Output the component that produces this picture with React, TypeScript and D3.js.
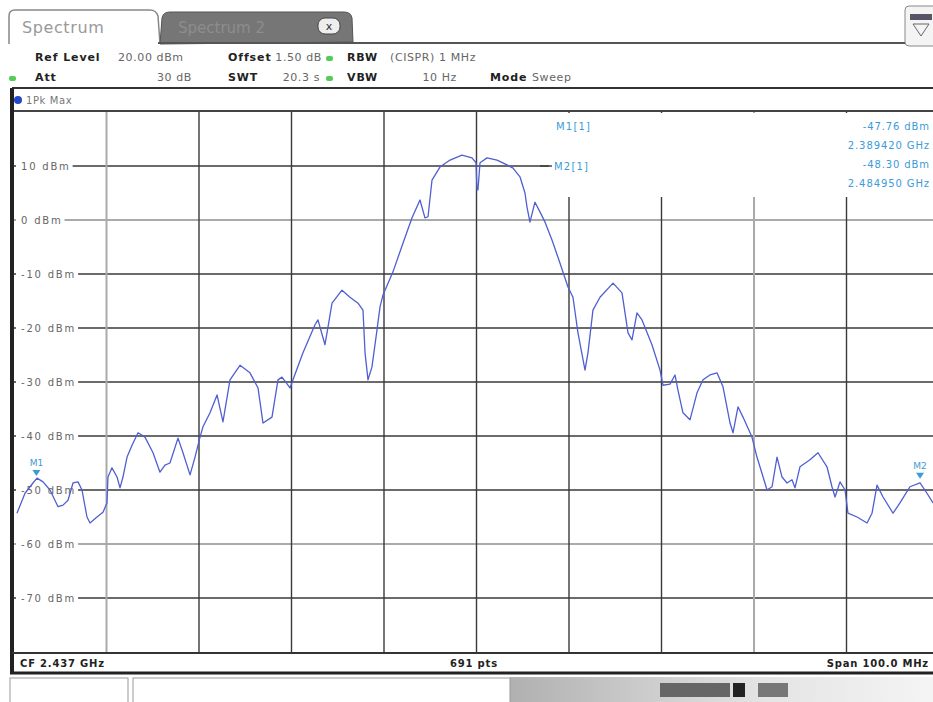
import React, { useEffect, useRef } from 'react';
import * as d3 from 'd3';

// sweep trace (MHz, dBm)
const traceFreq = [
	2387.32, 2388.19, 2389.05, 2389.49, 2390.14, 2390.89, 2391.76, 2392.3, 2392.84, 2393.38,
	2393.92, 2394.35, 2394.89, 2395.22, 2395.97, 2396.62, 2397.05, 2397.16, 2397.59, 2398.14,
	2398.46, 2398.78, 2399.22, 2399.76, 2400.41, 2401.16, 2402.03, 2402.78, 2403.32, 2403.86,
	2404.73, 2405.27, 2406.03, 2406.57, 2407.11, 2407.43, 2408.19, 2408.95, 2409.59, 2410.35,
	2411.43, 2412.51, 2413.38, 2413.92, 2414.89, 2415.54, 2415.97, 2416.84, 2417.16, 2418.24,
	2419.54, 2419.86, 2420.62, 2420.95, 2421.38, 2422.46, 2423.32, 2424.19, 2424.73, 2424.95,
	2425.27, 2425.7, 2426.24, 2426.57, 2426.89, 2427.97, 2429.05, 2430.03, 2430.89, 2431.43,
	2431.76, 2432.19, 2433.05, 2434.14, 2435.43, 2436.51, 2436.95, 2437.05, 2437.16, 2437.38,
	2438.14, 2439.22, 2440.3, 2440.95, 2441.7, 2442.24, 2442.46, 2442.78, 2443.32, 2443.86,
	2444.41, 2445.16, 2446.03, 2446.89, 2447.43, 2447.97, 2448.73, 2449.05, 2449.59, 2450.35,
	2451.76, 2452.73, 2453.38, 2453.81, 2454.35, 2454.89, 2455.97, 2456.84, 2457.16, 2457.92,
	2458.46, 2458.78, 2459.32, 2460.08, 2460.84, 2461.49, 2462.24, 2463.0, 2463.65, 2464.41,
	2464.73, 2465.27, 2465.81, 2466.78, 2467.32, 2467.86, 2468.41, 2468.95, 2469.49, 2470.03,
	2470.57, 2471.11, 2471.43, 2471.97, 2473.05, 2473.92, 2474.89, 2475.43, 2475.76, 2476.3,
	2476.84, 2477.16, 2478.14, 2479.22, 2479.76, 2480.3, 2480.95, 2482.03, 2482.78, 2483.86,
	2484.95, 2485.7, 2486.35,
];
const traceLevel = [
	-54.3, -50.6, -48.7, -47.8, -48.5, -50.0, -53.1, -52.8, -51.9, -48.7,
	-48.5, -50.0, -55.0, -56.1, -55.0, -54.1, -52.4, -47.6, -45.9, -47.6,
	-49.6, -47.6, -43.9, -41.7, -39.4, -40.2, -43.1, -46.7, -45.4, -45.0,
	-40.4, -43.1, -47.2, -43.9, -40.2, -38.3, -35.7, -32.4, -37.4, -29.6,
	-26.9, -28.3, -31.1, -37.6, -36.5, -29.6, -29.1, -31.1, -29.6, -24.6,
	-19.4, -18.5, -23.1, -19.8, -15.4, -13.0, -14.3, -15.4, -16.7, -24.6,
	-29.6, -27.2, -20.4, -16.1, -13.9, -9.6, -4.3, 0.4, 3.7, 0.4,
	0.6, 7.4, 9.8, 11.1, 12.0, 11.5, 10.6, 5.6, 5.6, 10.6,
	11.5, 11.1, 10.2, 9.6, 8.0, 5.0, 2.4, -0.4, 3.3, 1.5,
	-0.4, -3.7, -8.0, -12.4, -14.3, -20.9, -27.8, -24.6, -16.7, -14.3,
	-11.7, -13.5, -20.9, -22.2, -17.2, -18.5, -23.1, -27.8, -30.6, -30.4,
	-28.7, -31.5, -35.7, -37.0, -32.0, -29.6, -28.7, -28.3, -30.9, -37.6,
	-39.4, -34.6, -36.5, -40.2, -43.9, -46.9, -50.0, -49.4, -43.9, -47.6,
	-48.7, -48.1, -49.6, -45.7, -44.4, -43.1, -45.7, -49.4, -51.3, -48.5,
	-50.0, -54.3, -55.0, -56.1, -54.3, -49.1, -51.3, -54.3, -52.4, -49.4,
	-48.7, -50.6, -52.4,
];

const levelTicks = [10, 0, -10, -20, -30, -40, -50, -60, -70];
const lightLevels = [0, -60];
const freqGrid = [2397, 2407, 2417, 2427, 2437, 2447, 2457, 2467, 2477];
const lightFreqs = [2397, 2467];

const markerNames = ['M1', 'M2'];
const markerFreq = [2389.42, 2484.95];
const markerLevel = [-47.76, -48.3];
const markerReadout = ['-47.76 dBm', '2.389420 GHz', '-48.30 dBm', '2.484950 GHz'];

const W = 933;
const H = 702;
const plot = { left: 14, right: 939, top: 112, bottom: 652 };
const mkColor = '#3b9bd8';
const font = '"DejaVu Sans", sans-serif';

const Analyzer: React.FC = () => {
	const svgRef = useRef<SVGSVGElement>(null);

	useEffect(() => {
		const root = d3.select(svgRef.current);
		root.selectAll('*').remove();
		const svg = root.attr('width', W).attr('height', H).style('font-family', font);

		svg.append('rect').attr('width', W).attr('height', H).attr('fill', '#fff');

		const x = d3.scaleLinear().domain([2387, 2487]).range([plot.left, plot.right]);
		const y = d3.scaleLinear().domain([-80, 20]).range([plot.bottom, plot.top]);

		// ---- tabs
		svg.append('path')
			.attr('d', 'M9,44 L9,16 Q9,10 15,10 L150,10 Q156,10 158,16 L160,44')
			.attr('fill', '#fff').attr('stroke', '#888').attr('stroke-width', 1.5);
		svg.append('text').attr('x', 22).attr('y', 33).attr('font-size', 16)
			.attr('letter-spacing', 0.6).attr('fill', '#999').text('Spectrum');
		svg.append('path')
			.attr('d', 'M160,44 L162,18 Q163,12 170,12 L344,12 Q351,12 352,18 L353,42 Z')
			.attr('fill', '#767676').attr('stroke', '#555');
		svg.append('text').attr('x', 178).attr('y', 33).attr('font-size', 15)
			.attr('fill', '#8d8d8d').text('Spectrum 2');
		svg.append('rect').attr('x', 318).attr('y', 18).attr('width', 22).attr('height', 16)
			.attr('rx', 7).attr('fill', '#eee').attr('stroke', '#444');
		svg.append('text').attr('x', 329).attr('y', 30).attr('font-size', 11)
			.attr('text-anchor', 'middle').attr('fill', '#333').text('x');
		svg.append('line').attr('x1', 158).attr('x2', 905).attr('y1', 43).attr('y2', 43)
			.attr('stroke', '#555').attr('stroke-width', 2);
		svg.append('rect').attr('x', 905).attr('y', 6).attr('width', 32).attr('height', 40)
			.attr('rx', 4).attr('fill', '#f4f4f4').attr('stroke', '#888');
		svg.append('rect').attr('x', 910).attr('y', 14).attr('width', 22).attr('height', 6).attr('fill', '#556');
		svg.append('path').attr('d', 'M913,24 L929,24 L921,36 Z').attr('fill', 'none').attr('stroke', '#666');

		// ---- settings rows
		const row = (xx: number, yy: number, t: string, bold = false, anchor = 'start') =>
			svg.append('text').attr('x', xx).attr('y', yy).attr('font-size', 11)
				.attr('letter-spacing', bold ? 0.9 : 0.6)
				.attr('font-weight', bold ? 'bold' : 'normal')
				.attr('fill', bold ? '#222' : '#666')
				.attr('text-anchor', anchor).text(t);
		row(35, 61, 'Ref Level', true);
		row(118, 61, '20.00 dBm');
		row(228, 61, 'Offset', true);
		row(322, 61, '1.50 dB', false, 'end');
		row(347, 61, 'RBW', true);
		row(390, 61, '(CISPR) 1 MHz');
		row(35, 81, 'Att', true);
		row(192, 81, '30 dB', false, 'end');
		row(228, 81, 'SWT', true);
		row(320, 81, '20.3 s', false, 'end');
		row(347, 81, 'VBW', true);
		row(457, 81, '10 Hz', false, 'end');
		row(490, 81, 'Mode', true);
		row(532, 81, 'Sweep');
		[[326, 56], [326, 76], [9, 76]].forEach(([gx, gy]) =>
			svg.append('rect').attr('x', gx).attr('y', gy).attr('width', 7).attr('height', 5)
				.attr('rx', 2).attr('fill', '#5c5'));
		svg.append('line').attr('x1', 12).attr('x2', W).attr('y1', 88).attr('y2', 88)
			.attr('stroke', '#333').attr('stroke-width', 2);
		svg.append('circle').attr('cx', 18).attr('cy', 100).attr('r', 4).attr('fill', '#2348c8');
		svg.append('text').attr('x', 26).attr('y', 104).attr('font-size', 10)
			.attr('letter-spacing', 0.6).attr('fill', '#777').text('1Pk Max');

		// ---- grid
		const grid = svg.append('g');
		grid.selectAll('line.h')
			.data(levelTicks)
			.enter()
			.append('line')
			.attr('x1', plot.left).attr('x2', W)
			.attr('y1', (d) => y(d)).attr('y2', (d) => y(d))
			.attr('stroke', (d) => (lightLevels.includes(d) ? '#aaa' : '#3a3a3a'))
			.attr('stroke-width', (d) => (lightLevels.includes(d) ? 2 : 1.4));
		grid.selectAll('line.v')
			.data(freqGrid)
			.enter()
			.append('line')
			.attr('x1', (d) => x(d)).attr('x2', (d) => x(d))
			.attr('y1', plot.top).attr('y2', plot.bottom)
			.attr('stroke', (d) => (lightFreqs.includes(d) ? '#aaa' : '#3a3a3a'))
			.attr('stroke-width', (d) => (lightFreqs.includes(d) ? 2 : 1.4));

		// marker readout panel covers the grid in the top right
		svg.append('rect').attr('x', 549).attr('y', plot.top + 1).attr('width', W - 549)
			.attr('height', 84).attr('fill', '#fff');

		// level labels with white backing
		levelTicks.forEach((v) => {
			const t = svg.append('text').attr('x', 21).attr('y', y(v) + 4).attr('font-size', 10)
				.attr('letter-spacing', 1.8).attr('fill', '#666').text(`${v} dBm`);
			const bb = (t.node() as SVGTextElement).getBBox();
			svg.insert('rect', () => t.node())
				.attr('x', plot.left + 2).attr('y', y(v) - 6)
				.attr('width', bb.x + bb.width + 2 - plot.left - 2).attr('height', 12).attr('fill', '#fff');
		});

		// frame
		svg.append('line').attr('x1', plot.left).attr('x2', W).attr('y1', plot.top - 1).attr('y2', plot.top - 1)
			.attr('stroke', '#444').attr('stroke-width', 2);
		svg.append('line').attr('x1', 12).attr('x2', 12).attr('y1', 88).attr('y2', 674)
			.attr('stroke', '#222').attr('stroke-width', 4);

		// ---- marker readout text
		svg.append('text').attr('x', 556).attr('y', 130).attr('font-size', 10)
			.attr('letter-spacing', 1.2).attr('fill', mkColor).text(`${markerNames[0]}[1]`);
		svg.append('line').attr('x1', 540).attr('x2', 552).attr('y1', y(10)).attr('y2', y(10))
			.attr('stroke', '#3a3a3a').attr('stroke-width', 1.4);
		svg.append('text').attr('x', 554).attr('y', y(10) + 4).attr('font-size', 10)
			.attr('letter-spacing', 1.2).attr('fill', mkColor).text(`${markerNames[1]}[1]`);
		markerReadout.forEach((t, i) =>
			svg.append('text').attr('x', 930).attr('y', 130 + i * 19).attr('font-size', 10)
				.attr('letter-spacing', 0.9).attr('text-anchor', 'end').attr('fill', mkColor).text(t));

		// ---- trace
		const pts: [number, number][] = traceFreq.map((f, i) => [f, traceLevel[i]]);
		const line = d3.line<[number, number]>().x((d) => x(d[0])).y((d) => y(d[1]));
		svg.append('path').datum(pts).attr('d', line).attr('fill', 'none')
			.attr('stroke', '#4f5fd2').attr('stroke-width', 1.3).attr('stroke-linejoin', 'round');

		// ---- markers
		markerNames.forEach((m, i) => {
			const mx = x(markerFreq[i]);
			const my = y(markerLevel[i]);
			svg.append('path')
				.attr('d', `M${mx - 4},${my - 8} L${mx + 4},${my - 8} L${mx},${my - 2} Z`)
				.attr('fill', mkColor);
			svg.append('text').attr('x', mx).attr('y', my - 12).attr('font-size', 9)
				.attr('text-anchor', 'middle').attr('fill', mkColor).text(m);
		});

		// ---- footer
		svg.append('line').attr('x1', 12).attr('x2', W).attr('y1', plot.bottom + 1).attr('y2', plot.bottom + 1)
			.attr('stroke', '#333').attr('stroke-width', 2);
		svg.append('text').attr('x', 20).attr('y', 667).attr('font-size', 10).attr('font-weight', 'bold')
			.attr('letter-spacing', 0.8).attr('fill', '#222').text('CF 2.437 GHz');
		svg.append('text').attr('x', 474).attr('y', 667).attr('font-size', 10).attr('font-weight', 'bold')
			.attr('letter-spacing', 0.8).attr('text-anchor', 'middle').attr('fill', '#222').text('691 pts');
		svg.append('text').attr('x', 929).attr('y', 667).attr('font-size', 10).attr('font-weight', 'bold')
			.attr('letter-spacing', 0.8).attr('text-anchor', 'end').attr('fill', '#222').text('Span 100.0 MHz');
		svg.append('line').attr('x1', 10).attr('x2', W).attr('y1', 673).attr('y2', 673)
			.attr('stroke', '#222').attr('stroke-width', 3);

		// status bar
		const grad = svg.append('defs').append('linearGradient').attr('id', 'sb');
		grad.append('stop').attr('offset', '0%').attr('stop-color', '#b0b0b0');
		grad.append('stop').attr('offset', '60%').attr('stop-color', '#e4e4e4');
		grad.append('stop').attr('offset', '100%').attr('stop-color', '#f4f4f4');
		svg.append('rect').attr('x', 510).attr('y', 677).attr('width', W - 510).attr('height', 25).attr('fill', 'url(#sb)');
		svg.append('rect').attr('x', 10).attr('y', 678).attr('width', 118).attr('height', 26)
			.attr('fill', '#fff').attr('stroke', '#999');
		svg.append('rect').attr('x', 133).attr('y', 678).attr('width', 377).attr('height', 26)
			.attr('fill', '#fff').attr('stroke', '#999');
		svg.append('rect').attr('x', 660).attr('y', 683).attr('width', 70).attr('height', 14).attr('fill', '#666');
		svg.append('rect').attr('x', 733).attr('y', 683).attr('width', 12).attr('height', 14).attr('fill', '#222');
		svg.append('rect').attr('x', 758).attr('y', 683).attr('width', 30).attr('height', 14).attr('fill', '#777');
	}, []);

	return <svg ref={svgRef} style={{ position: 'absolute', left: 0, top: 0 }} />;
};

export default function App() {
	return <Analyzer />;
}
